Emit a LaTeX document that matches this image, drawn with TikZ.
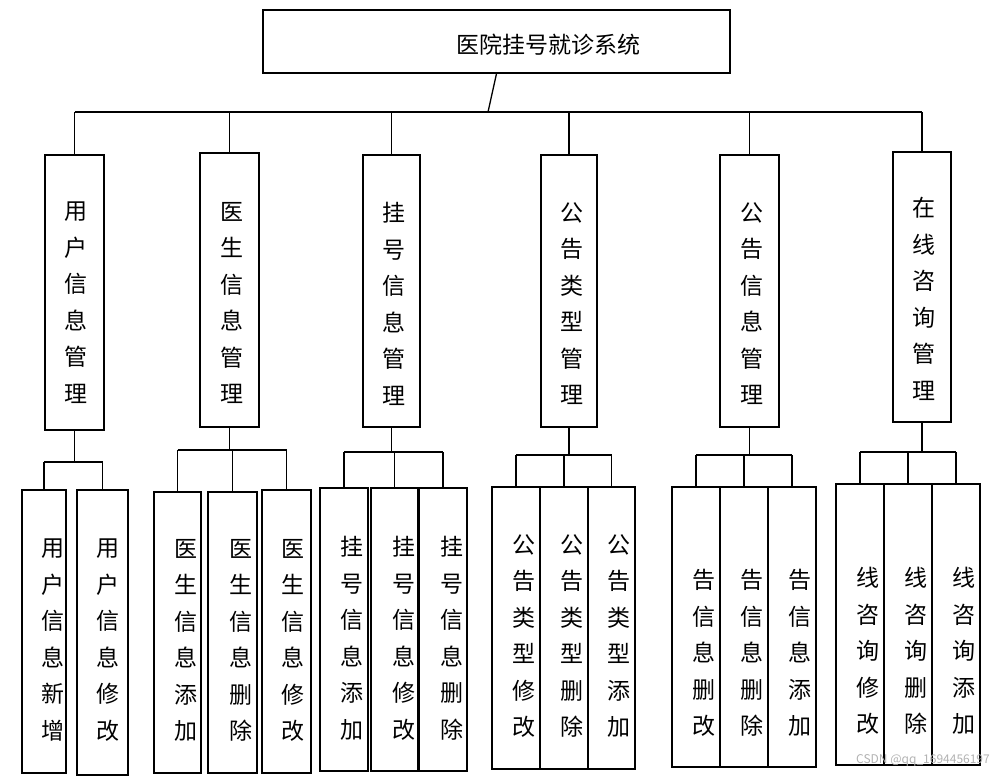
\documentclass[tikz,border=0pt]{standalone}
\usepackage{fontspec}
\setmainfont{Noto Sans CJK SC}
\begin{document}
\begin{tikzpicture}[x=1pt,y=-1pt,
  box/.style={draw,line width=1.3pt,inner sep=0pt},
  vt/.style={inner sep=0pt,align=center,font=\fontsize{23}{36.5}\selectfont},
  ln/.style={line width=1.3pt}]
\useasboundingbox (0,0) rectangle (993,777);
\newcommand\bx[5]{\node[box,minimum width={#4-#2},minimum height={#5-#3}] (#1) at ({(#2+#4)/2},{(#3+#5)/2}) {};}
% top
\bx{top}{263}{10}{730}{73}
\node[inner sep=0pt,font=\fontsize{23}{28}\selectfont] (toptxt) at (548,45) {医院挂号就诊系统};
% modules
\bx{m1}{45}{155}{104}{430}
\bx{m2}{200}{153}{259}{427}
\bx{m3}{363}{155}{420}{427}
\bx{m4}{541}{155}{597}{427}
\bx{m5}{720}{155}{779}{427}
\bx{m6}{893}{152}{951}{422}
\node[vt,anchor=north] (t1) at (76,202) {用\\户\\信\\息\\管\\理};
\node[vt,anchor=north] (t2) at (232,202) {医\\生\\信\\息\\管\\理};
\node[vt,anchor=north] (t3) at (394,202) {挂\\号\\信\\息\\管\\理};
\node[vt,anchor=north] (t4) at (572,202) {公\\告\\类\\型\\管\\理};
\node[vt,anchor=north] (t5) at (752,202) {公\\告\\信\\息\\管\\理};
\node[vt,anchor=north] (t6) at (924,197) {在\\线\\咨\\询\\管\\理};
% children
\bx{c11}{22}{490}{66}{773}
\bx{c12}{77}{490}{128}{775}
\bx{c21}{154}{492}{201}{773}
\bx{c22}{208}{492}{257}{773}
\bx{c23}{262}{490}{311}{773}
\bx{c31}{320}{488}{368}{771}
\bx{c32}{371}{488}{418}{771}
\bx{c33}{419}{488}{467}{771}
\bx{c41}{492}{487}{540}{769}
\bx{c42}{540}{487}{588}{769}
\bx{c43}{588}{487}{635}{769}
\bx{c51}{672}{487}{720}{767}
\bx{c52}{720}{487}{768}{767}
\bx{c53}{768}{487}{816}{767}
\bx{c61}{836}{484}{884}{765}
\bx{c62}{884}{484}{932}{765}
\bx{c63}{932}{484}{980}{765}
\node[vt,anchor=north] (s11) at (53,539) {用\\户\\信\\息\\新\\增};
\node[vt,anchor=north] (s12) at (108,539) {用\\户\\信\\息\\修\\改};
\node[vt,anchor=north] (s21) at (186,539) {医\\生\\信\\息\\添\\加};
\node[vt,anchor=north] (s22) at (241,539) {医\\生\\信\\息\\删\\除};
\node[vt,anchor=north] (s23) at (293,539) {医\\生\\信\\息\\修\\改};
\node[vt,anchor=north] (s31) at (352,536) {挂\\号\\信\\息\\添\\加};
\node[vt,anchor=north] (s32) at (404,536) {挂\\号\\信\\息\\修\\改};
\node[vt,anchor=north] (s33) at (452,536) {挂\\号\\信\\息\\删\\除};
\node[vt,anchor=north] (s41) at (524,534) {公\\告\\类\\型\\修\\改};
\node[vt,anchor=north] (s42) at (572,534) {公\\告\\类\\型\\删\\除};
\node[vt,anchor=north] (s43) at (619,534) {公\\告\\类\\型\\添\\加};
\node[vt,anchor=north] (s51) at (704,569) {告\\信\\息\\删\\改};
\node[vt,anchor=north] (s52) at (752,569) {告\\信\\息\\删\\除};
\node[vt,anchor=north] (s53) at (800,569) {告\\信\\息\\添\\加};
\node[vt,anchor=north] (s61) at (868,567) {线\\咨\\询\\修\\改};
\node[vt,anchor=north] (s62) at (916,567) {线\\咨\\询\\删\\除};
\node[vt,anchor=north] (s63) at (964,567) {线\\咨\\询\\添\\加};
% top connectors
\coordinate (bus) at (488,112);
\draw[ln] (top.south) -- (bus);
\draw[ln] (m1.north|-bus) -- (m6.north|-bus);
\foreach \m in {m1,m2,m3,m4,m5,m6} \draw[ln] (\m.north) -- (\m.north|-bus);
% child connectors
\coordinate (b1) at (75,462);
\coordinate (b2) at (232,450);
\coordinate (b3) at (395,452);
\coordinate (b4) at (569,455);
\coordinate (b5) at (750,455);
\coordinate (b6) at (922,452);
\draw[ln] (m1.south) -- (m1.south|-b1);
\draw[ln] (m2.south) -- (m2.south|-b2);
\draw[ln] (m3.south) -- (m3.south|-b3);
\draw[ln] (m4.south) -- (m4.south|-b4);
\draw[ln] (m5.south) -- (m5.south|-b5);
\draw[ln] (m6.south) -- (m6.south|-b6);
\draw[ln] (c11.north|-b1) -- (c12.north|-b1);
\draw[ln] (c21.north|-b2) -- (c23.north|-b2);
\draw[ln] (c31.north|-b3) -- (c33.north|-b3);
\draw[ln] (c41.north|-b4) -- (c43.north|-b4);
\draw[ln] (c51.north|-b5) -- (c53.north|-b5);
\draw[ln] (c61.north|-b6) -- (c63.north|-b6);
\foreach \c/\b in {c11/b1,c12/b1,c21/b2,c22/b2,c23/b2,c31/b3,c32/b3,c33/b3,c41/b4,c42/b4,c43/b4,c51/b5,c52/b5,c53/b5,c61/b6,c62/b6,c63/b6}
  \draw[ln] (\c.north) -- (\c.north|-\b);
\node[inner sep=0pt,text=gray!60,font=\fontsize{12}{14}\selectfont,anchor=east] (wm) at (990,760) {CSDN @qq\_1694456197};
\end{tikzpicture}
\end{document}
